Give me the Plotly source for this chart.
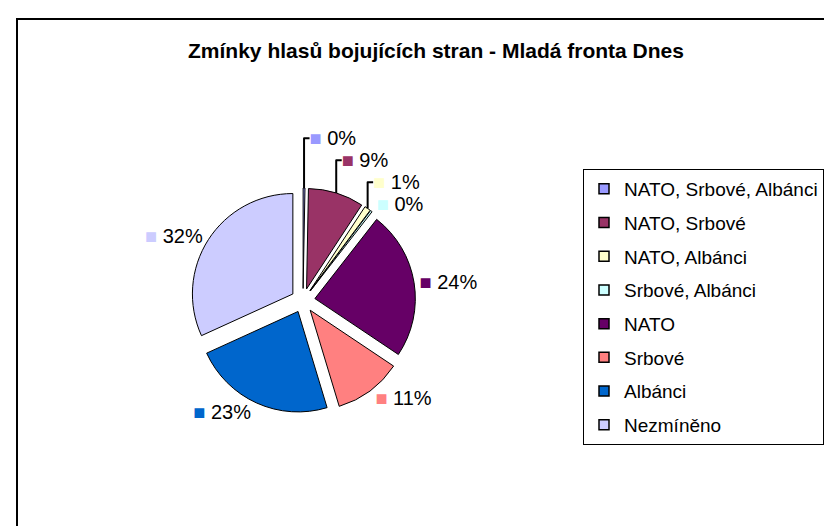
import plotly.graph_objects as go

categories = ["NATO, Srbové, Albánci", "NATO, Srbové", "NATO, Albánci", "Srbové, Albánci",
              "NATO", "Srbové", "Albánci", "Nezmíněno"]
values = [0.3, 9.0, 1.0, 0.3, 24.0, 11.0, 23.0, 32.0]
colors = ["#9999FF", "#993366", "#FFFFCC", "#CCFFFF", "#660066", "#FF8080", "#0066CC", "#CCCCFF"]
title_text = "Zmínky hlasů bojujících stran - Mladá fronta Dnes"

W, H = 832, 526
FONT = "Liberation Sans, Arial, sans-serif"

fig = go.Figure()

fig.add_trace(go.Pie(
    labels=categories,
    values=values,
    customdata=colors,
    sort=False,
    direction="clockwise",
    rotation=0,
    pull=[0.12] * len(values),
    marker=dict(colors=colors, line=dict(color="black", width=1)),
    textposition="outside",
    texttemplate="<span style='color:%{customdata}'>■</span> %{percent:.0%}",
    textfont=dict(family=FONT, size=20, color="black"),
    showlegend=False,
    domain=dict(x=[(295 - 160) / W, (295 + 160) / W], y=[1 - 405 / H, 1 - 180 / H]),
    hoverinfo="label+percent",
))

for cat, col in zip(categories, colors):
    fig.add_trace(go.Scatter(
        x=[None], y=[None], mode="markers", name=cat, legendgroup=cat,
        marker=dict(symbol="square", size=10, color=col, line=dict(color="black", width=1.5)),
    ))

fig.update_layout(
    width=W, height=H,
    margin=dict(l=0, r=0, t=0, b=0),
    paper_bgcolor="white", plot_bgcolor="white",
    xaxis=dict(visible=False), yaxis=dict(visible=False),
    title=dict(text="<b>" + title_text + "</b>", x=428 / W, xanchor="center",
               y=1 - 43 / H, yanchor="middle",
               font=dict(family=FONT, size=21, color="black")),
    legend=dict(x=575 / W, y=1 - 161 / H, xanchor="left", yanchor="top",
                bordercolor="black", borderwidth=1, bgcolor="white",
                font=dict(family=FONT, size=19, color="black"),
                tracegroupgap=6, itemclick=False, itemwidth=30),
    shapes=[dict(type="rect", xref="paper", yref="paper",
                 x0=9 / W, x1=1.05, y0=-0.05, y1=1 - 11 / H,
                 line=dict(color="black", width=2))],
)

fig.write_html("out.html")
